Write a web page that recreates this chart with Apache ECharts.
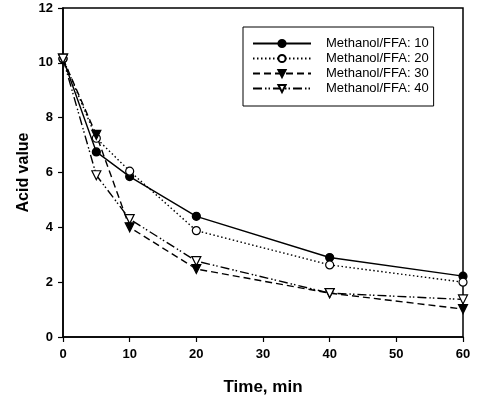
<!DOCTYPE html>
<html>
<head>
<meta charset="utf-8">
<script src="https://cdn.jsdelivr.net/npm/echarts@6/dist/echarts.min.js"></script>
<style>
  html, body { margin: 0; padding: 0; background: #fff; }
  #chart { width: 477px; height: 397px; }
</style>
</head>
<body>
<div id="chart"></div>
<script>
const times = [0, 5, 10, 20, 40, 60];
const ratio10 = [10.15, 6.75, 5.85, 4.4, 2.9, 2.22];
const ratio20 = [10.15, 7.25, 6.05, 3.88, 2.63, 2.0];
const ratio30 = [10.15, 7.37, 4.0, 2.48, 1.6, 1.02];
const ratio40 = [10.15, 5.9, 4.3, 2.77, 1.6, 1.37];
const seriesNames = ["Methanol/FFA: 10", "Methanol/FFA: 20", "Methanol/FFA: 30", "Methanol/FFA: 40"];
const yTicks = { min: 0, max: 12, interval: 2 };
const xTicks = { min: 0, max: 60, interval: 10 };

const font = "'Liberation Sans', Arial, sans-serif";
const pair = (vals) => times.map((t, i) => [t, vals[i]]);

const styles = [
  { data: ratio10, symbol: "circle", size: 8, fill: "#000", dash: "solid", rotate: 0 },
  { data: ratio20, symbol: "circle", size: 8, fill: "#fff", dash: [1.5, 2.5], rotate: 0 },
  { data: ratio30, symbol: "triangle", size: 9, fill: "#000", dash: [7, 4], rotate: 180 },
  { data: ratio40, symbol: "triangle", size: 9, fill: "#fff", dash: [9, 3, 1.5, 2, 1.5, 3], rotate: 180 }
];

const chart = echarts.init(document.getElementById("chart"), null, { renderer: "canvas" });
chart.setOption({
  animation: false,
  backgroundColor: "#fff",
  grid: {
    left: 63, right: 14, top: 8, bottom: 60,
    outerBoundsMode: "none",
    containLabel: false,
    show: true, borderColor: "#000", borderWidth: 1.5
  },
  legend: {
    orient: "vertical",
    left: 243, top: 27,
    padding: [10, 5, 11, 9],
    borderColor: "#000", borderWidth: 1,
    itemWidth: 58, itemHeight: 9, itemGap: 2,
    textStyle: { fontFamily: font, fontSize: 13, lineHeight: 13, color: "#000", padding: [0, 0, 0, 10] },
    data: seriesNames
  },
  xAxis: {
    type: "value",
    min: xTicks.min, max: xTicks.max, interval: xTicks.interval,
    name: "Time, min",
    nameLocation: "middle",
    nameGap: 42,
    nameMoveOverlap: false,
    nameTextStyle: { fontFamily: font, fontSize: 17, fontWeight: "bold", color: "#000" },
    axisLine: { lineStyle: { color: "#000", width: 1.5 } },
    axisTick: { inside: false, length: 5, lineStyle: { color: "#000", width: 1.2 } },
    axisLabel: { margin: 11, fontFamily: font, fontSize: 13, fontWeight: "bold", color: "#000" },
    splitLine: { show: false }
  },
  yAxis: {
    type: "value",
    min: yTicks.min, max: yTicks.max, interval: yTicks.interval,
    name: "Acid value",
    nameLocation: "middle",
    nameGap: 31,
    nameMoveOverlap: false,
    nameRotate: 90,
    nameTextStyle: { fontFamily: font, fontSize: 16, fontWeight: "bold", color: "#000" },
    axisLine: { lineStyle: { color: "#000", width: 1.5 } },
    axisTick: { inside: false, length: 5, lineStyle: { color: "#000", width: 1.2 } },
    axisLabel: { margin: 10, fontFamily: font, fontSize: 13, fontWeight: "bold", color: "#000" },
    splitLine: { show: false }
  },
  series: styles.map((s, i) => ({
    name: seriesNames[i],
    type: "line",
    data: pair(s.data),
    symbol: s.symbol,
    symbolSize: s.size,
    symbolRotate: s.rotate,
    showAllSymbol: true,
    lineStyle: { color: "#000", width: 1.4, type: s.dash },
    itemStyle: { color: s.fill, borderColor: "#000", borderWidth: 1.2 },
    emphasis: { disabled: true }
  }))
});
</script>
</body>
</html>
